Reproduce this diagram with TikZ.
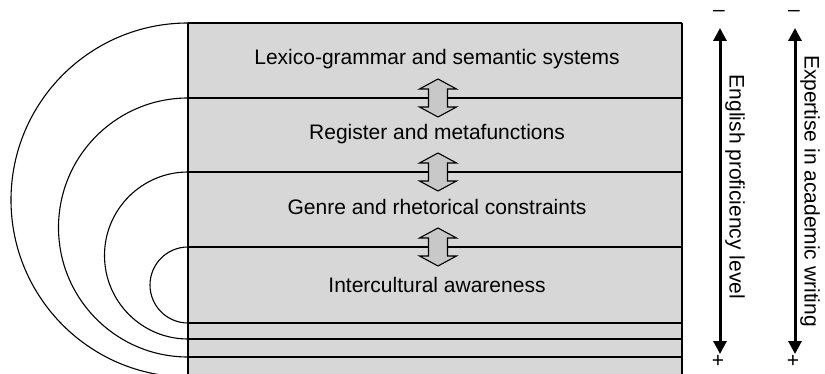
\documentclass[tikz,border=0pt]{standalone}
\usepackage{fontspec}
\setmainfont{Liberation Sans}
\usetikzlibrary{arrows.meta}
\definecolor{bandgray}{RGB}{215,215,215}
\definecolor{arrowgray}{RGB}{200,200,200}
\tikzset{
  rule/.style={line width=1.1pt, black},
  label/.style={font=\fontsize{21}{25}\selectfont, inner sep=0pt},
  sidelabel/.style={font=\fontsize{21}{25}\selectfont, inner sep=0pt, rotate=-90},
  signlabel/.style={font=\fontsize{21}{24}\selectfont, inner sep=0pt},
  axisline/.style={line width=3pt, {Triangle[width=13pt,length=13pt]}-{Triangle[width=13pt,length=13pt]}},
  arrowbox/.style={draw=black, line width=1.1pt, fill=arrowgray, line join=miter},
  updown/.pic={
    \path[arrowbox] (0,-19) -- (18.5,-9) -- (9.5,-9) -- (9.5,9) -- (18.5,9)
      -- (0,19) -- (-18.5,9) -- (-9.5,9) -- (-9.5,-9) -- (-18.5,-9) -- cycle;
  }
}
\begin{document}
\begin{tikzpicture}[x=1pt, y=-1pt]
  \useasboundingbox (0,0) rectangle (825,374);
  \clip (0,0) rectangle (825,374);
  \fill[white] (0,0) rectangle (825,374);

  % stacked bands
  \fill[bandgray] (188,23) rectangle (682,380);
  \draw[rule] (188,23) -- (682,23);
  \foreach \y in {98,172,247,323,339,357,377}
    \draw[rule] (188,\y) -- (682,\y);
  \draw[rule] (188,23) -- (188,380);
  \draw[rule] (682,23) -- (682,380);

  % nested semicircles on the left
  \draw[rule] (188,23)  arc[start angle=270, end angle=90, radius=177];
  \draw[rule] (188,98)  arc[start angle=270, end angle=90, radius=129.5];
  \draw[rule] (188,172) arc[start angle=270, end angle=90, radius=83.5];
  \draw[rule] (188,247) arc[start angle=270, end angle=90, radius=38];

  % band titles
  \node[label, anchor=base] (lex) at (437,65)  {Lexico-grammar and semantic systems};
  \node[label, anchor=base] (reg) at (437,140) {Register and metafunctions};
  \node[label, anchor=base] (gen) at (437,215) {Genre and rhetorical constraints};
  \node[label, anchor=base] (int) at (437,292) {Intercultural awareness};

  % two-way arrows between bands
  \pic (a1) at (438,98)  {updown};
  \pic (a2) at (438,172) {updown};
  \pic (a3) at (438,247) {updown};

  % proficiency scale
  \coordinate (pTop) at (720,28);
  \coordinate (pBot) at (720,354);
  \draw[axisline] (pTop) -- (pBot);
  \node[signlabel] (pMinus) at (719,13) {–};
  \node[signlabel] (pPlus)  at (718,361) {+};
  \node[sidelabel] (pLab) at (735,187) {English proficiency level};

  % expertise scale
  \coordinate (eTop) at (795,28);
  \coordinate (eBot) at (795,354);
  \draw[axisline] (eTop) -- (eBot);
  \node[signlabel] (eMinus) at (794,13) {–};
  \node[signlabel] (ePlus)  at (793,361) {+};
  \node[sidelabel] (eLab) at (810,191) {Expertise in academic writing};
\end{tikzpicture}
\end{document}
